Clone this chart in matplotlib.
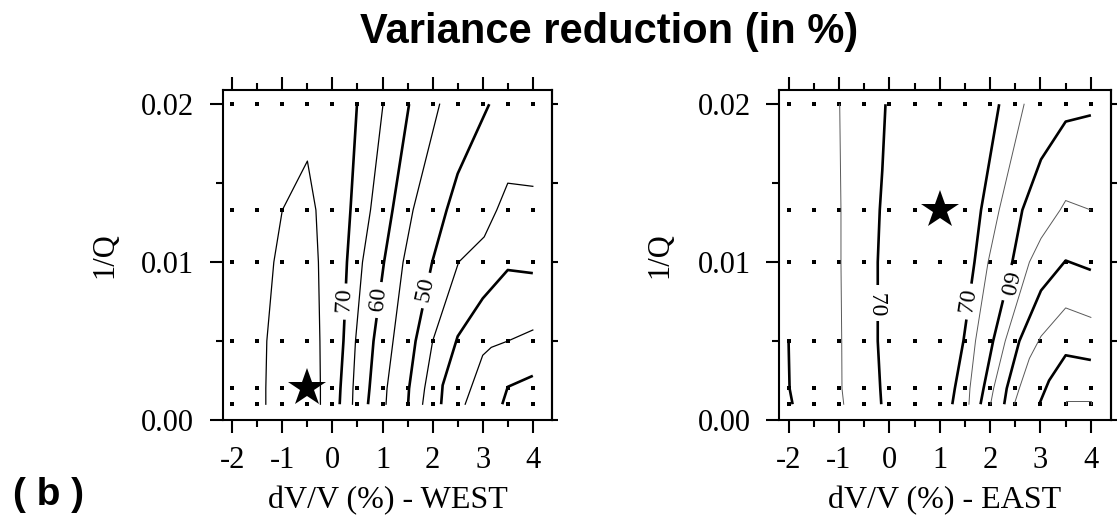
import matplotlib.pyplot as plt
import numpy as np

#########################
# data #
#########################

# model grid (dV/V in %, 1/Q)
grid_dv = [-2.0, -1.5, -1.0, -0.5, 0.0, 0.5, 1.0, 1.5, 2.0, 2.5, 3.0, 3.5, 4.0]
grid_q = [0.001, 0.002, 0.005, 0.01, 0.01333, 0.02]
rows = [0.001, 0.002, 0.005, 0.01, 0.0133, 0.02]

# WEST: contour lines of variance reduction (%)
west_levels = [75, 70, 65, 60, 55, 50, 45, 40, 35, 30]
west_x = [
    [-1.33, -1.33, -1.31, -1.17, -1.00, -0.50, -0.33, -0.28, -0.25, -0.24, -0.24],
    [0.145, 0.16, 0.22, 0.29, 0.36, 0.49],
    [0.40, 0.41, 0.46, 0.60, 0.76, 1.01],
    [0.71, 0.74, 0.82, 1.03, 1.20, 1.53],
    [1.07, 1.09, 1.21, 1.41, 1.61, 2.14],
    [1.51, 1.53, 1.66, 1.99, 2.28, 2.50, 3.13],
    [1.80, 1.84, 2.00, 2.52, 3.03, 3.28, 3.50, 4.00],
    [2.17, 2.20, 2.50, 3.00, 3.50, 4.00],
    [2.65, 3.00, 3.17, 3.50, 4.00],
    [3.39, 3.50, 4.00],
]
west_y = [
    [0.001, 0.002, 0.005, 0.01, 0.0133, 0.0164, 0.0133, 0.01, 0.005, 0.002, 0.001],
    rows,
    rows,
    rows,
    rows,
    [0.001, 0.002, 0.005, 0.01, 0.0133, 0.0156, 0.02],
    [0.001, 0.002, 0.005, 0.01, 0.0116, 0.0133, 0.0150, 0.0148],
    [0.001, 0.0022, 0.0053, 0.0077, 0.0095, 0.0093],
    [0.001, 0.0041, 0.0046, 0.0050, 0.0057],
    [0.001, 0.0021, 0.0028],
]
# labelled contours: (index into lists above, 1/Q of label, rotation)
west_labels = [(1, 0.0075, 87), (3, 0.0076, 84), (5, 0.0082, 78)]
west_best = (-0.5, 0.002)

# EAST
east_levels = [60, 65, 70, 70, 65, 60, 55, 50, 45, 40, 35]
east_x = [
    [-1.92, -1.98, -2.00],
    [-0.905, -0.94, -0.945, -0.96, -0.96, -0.985],
    [-0.16, -0.18, -0.23, -0.23, -0.19, -0.14, -0.076],
    [1.25, 1.30, 1.47, 1.69, 1.82, 2.18],
    [1.58, 1.60, 1.71, 1.96, 2.18, 2.675],
    [1.81, 1.87, 2.06, 2.44, 2.64, 3.01, 3.50, 4.00],
    [2.01, 2.07, 2.30, 2.78, 3.01, 3.39, 3.50, 4.00],
    [2.28, 2.33, 2.58, 3.01, 3.50, 4.00],
    [2.48, 2.58, 2.78, 3.01, 3.50, 4.00],
    [2.975, 3.17, 3.50, 4.00],
    [3.50, 3.50, 4.00, 4.00],
]
east_y = [
    [0.001, 0.002, 0.005],
    rows,
    [0.001, 0.002, 0.005, 0.01, 0.0133, 0.0158, 0.02],
    rows,
    rows,
    [0.001, 0.002, 0.005, 0.01, 0.0133, 0.0165, 0.0189, 0.0193],
    [0.001, 0.002, 0.005, 0.01, 0.0115, 0.0133, 0.0139, 0.0133],
    [0.001, 0.002, 0.005, 0.0082, 0.0101, 0.0095],
    [0.001, 0.002, 0.0039, 0.0053, 0.0071, 0.0065],
    [0.001, 0.0025, 0.0041, 0.0038],
    [0.001, 0.0012, 0.0012, 0.001],
]
east_labels = [(2, 0.0074, -90), (3, 0.0075, 81), (5, 0.0087, -103)]
east_best = (1.0, 0.01333)

xticks = [-2, -1, 0, 1, 2, 3, 4]
yticks = [0.0, 0.01, 0.02]
ytick_labels = ['0.00', '0.01', '0.02']

##################
# plot functions #
##################

serif = 'Liberation Serif'
sans = 'Liberation Sans'

def draw_panel(ax, xs, ys, levels, labels, best, thin_color, thin_lw, xlabel):
    # grid points
    gx, gy = np.meshgrid(grid_dv, grid_q)
    ax.plot(gx.ravel(), gy.ravel(), 's', color='k', ms=2.8, mew=0, zorder=1)

    # contours: every 10% thick, the 5% ones thin
    for x, y, lev in zip(xs, ys, levels):
        if lev % 10 == 0:
            ax.plot(x, y, '-', color='k', lw=1.9, zorder=2, solid_capstyle='butt')
        else:
            ax.plot(x, y, '-', color=thin_color, lw=thin_lw, zorder=2)

    # contour labels
    for i, yl, rot in labels:
        order = np.argsort(ys[i])
        xl = np.interp(yl, np.array(ys[i])[order], np.array(xs[i])[order])
        ax.text(xl, yl, ' %d ' % levels[i], fontsize=17, family=serif,
                rotation=rot, ha='center', va='center', rotation_mode='anchor',
                bbox=dict(fc='white', ec='none', pad=0.3), zorder=4)

    # best model
    ax.plot(best[0], best[1], '*', color='k', ms=29, mew=0, zorder=5)

    # frame and ticks (GMT style)
    ax.set_xlim(-2.19, 4.39)
    ax.set_ylim(0.0, 0.0209)
    ax.set_xticks(xticks)
    ax.set_xticklabels([str(t) for t in xticks])
    ax.set_xticks(np.arange(-1.5, 4.0, 1.0), minor=True)
    ax.set_yticks(yticks)
    ax.set_yticklabels(ytick_labels)
    ax.set_yticks([0.005, 0.015], minor=True)
    ax.tick_params(which='both', direction='out', width=1.5, top=True,
                   right=False, labelsize=22)
    ax.tick_params(which='major', length=9.5)
    ax.tick_params(which='minor', length=4.8)
    ax.tick_params(axis='x', which='major', pad=9)
    ax.tick_params(axis='y', which='major', pad=11)
    for lab in ax.get_xticklabels() + ax.get_yticklabels():
        lab.set_family(serif)
    for s in ax.spines.values():
        s.set_linewidth(1.5)

    sec = ax.secondary_yaxis('right')
    sec.set_yticks([0.0, 0.005, 0.01, 0.015, 0.02])
    sec.tick_params(direction='out', length=4.5, width=1.5, labelright=False)
    sec.spines['right'].set_linewidth(1.5)

    ax.set_xlabel(xlabel, fontsize=23, family=serif)
    ax.xaxis.set_label_coords(0.5, -0.2)
    ax.set_ylabel('1/Q', fontsize=22, family=serif)
    ax.yaxis.set_label_coords(-0.315, 0.5)

##########
# figure #
##########

fig = plt.figure(figsize=(11.17, 5.17), dpi=100)

ax1 = fig.add_axes([0.1994, 0.1876, 0.2951, 0.6383])
draw_panel(ax1, west_x, west_y, west_levels, west_labels, west_best,
           'k', 0.9, 'dV/V (%) - WEST')

ax2 = fig.add_axes([0.6974, 0.1876, 0.2968, 0.6383])
draw_panel(ax2, east_x, east_y, east_levels, east_labels, east_best,
           '0.35', 0.7, 'dV/V (%) - EAST')

fig.text(0.5457, 0.916, 'Variance reduction (in %)', fontsize=30,
         fontweight='bold', family=sans, ha='center', va='baseline')
fig.text(0.012, 0.023, '( b )', fontsize=28, fontweight='bold', family=sans,
         ha='left', va='baseline')

fig.savefig('out.png', dpi=100)
